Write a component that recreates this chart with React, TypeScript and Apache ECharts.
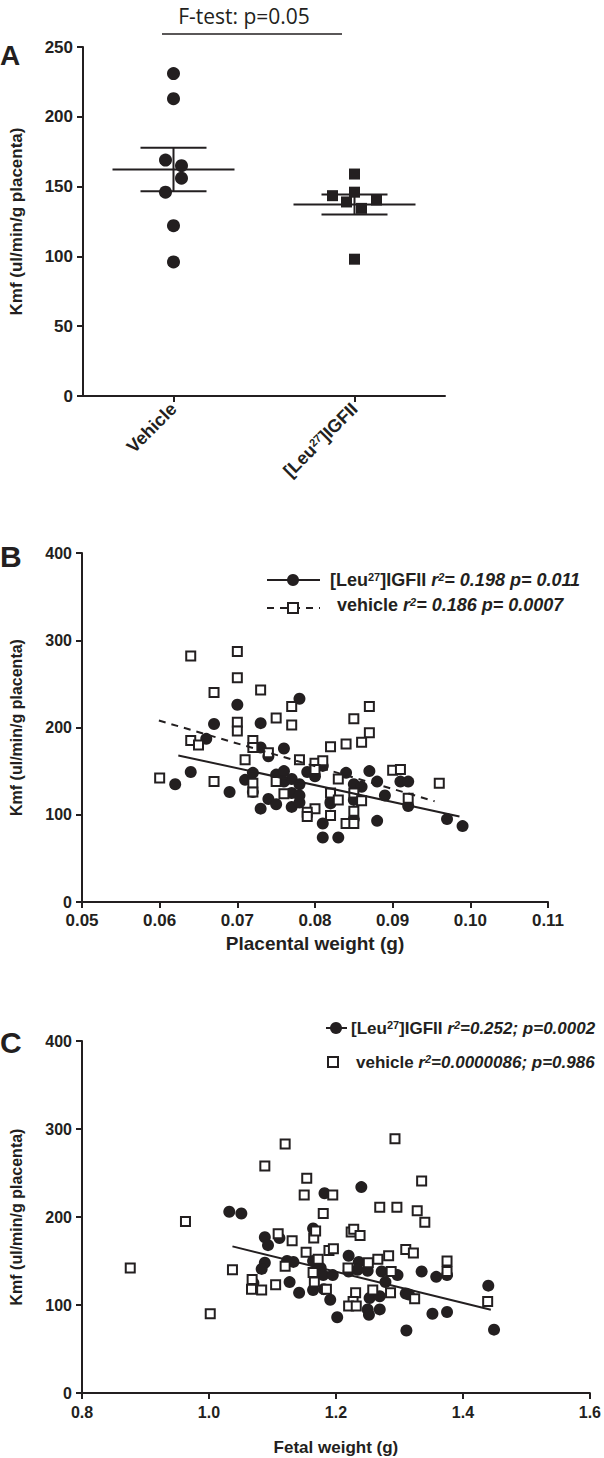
import React, { useEffect, useRef } from "react";
import * as echarts from "echarts";

// ---------- Panel A ----------
const groupsA = ["Vehicle", "[Leu27]IGFII"];
const vehicleA = [231, 213, 169, 165, 156, 146, 122, 96];
const igfA = [159, 146, 143.5, 140.4, 139, 134.4, 98];
const fTestText = "F-test: p=0.05";

// ---------- Panel B : placental weight (g) vs Kmf ----------
const placentaIgf: [number, number][] = [
  [0.078, 233], [0.070, 226], [0.067, 204], [0.073, 205], [0.066, 187], [0.073, 177],
  [0.076, 176], [0.074, 167], [0.064, 149], [0.062, 135], [0.069, 126], [0.071, 140],
  [0.072, 148], [0.072, 126], [0.074, 118], [0.073, 107], [0.075, 112], [0.075, 146],
  [0.076, 150], [0.076, 138], [0.077, 141], [0.077, 125], [0.077, 109], [0.078, 135],
  [0.078, 114], [0.078, 122], [0.079, 149], [0.080, 144], [0.081, 156], [0.081, 90],
  [0.081, 74], [0.083, 74], [0.082, 115], [0.082, 113], [0.084, 148], [0.085, 135],
  [0.086, 132], [0.085, 117], [0.085, 95], [0.087, 150], [0.088, 138], [0.088, 93],
  [0.089, 122], [0.091, 138], [0.092, 138], [0.092, 110], [0.097, 95], [0.099, 87],
];
const placentaVeh: [number, number][] = [
  [0.064, 282], [0.070, 287], [0.070, 257], [0.067, 240], [0.073, 243], [0.077, 224],
  [0.087, 224], [0.085, 210], [0.075, 211], [0.077, 203], [0.070, 206], [0.070, 196],
  [0.087, 194], [0.086, 183], [0.084, 181], [0.082, 178], [0.064, 185], [0.065, 180],
  [0.072, 185], [0.072, 177], [0.074, 171], [0.071, 163], [0.078, 163], [0.080, 159],
  [0.081, 162], [0.080, 152], [0.090, 151], [0.091, 152], [0.096, 136], [0.060, 142],
  [0.067, 138], [0.072, 136], [0.075, 138], [0.083, 141], [0.072, 126], [0.076, 124],
  [0.082, 125], [0.083, 117], [0.085, 125], [0.086, 116], [0.092, 119], [0.080, 107],
  [0.079, 103], [0.079, 98], [0.082, 99], [0.085, 104], [0.084, 90], [0.085, 90],
];
const placentaIgfFit: [number, number][] = [[0.0624, 168], [0.0986, 98]];
const placentaVehFit: [number, number][] = [[0.0599, 208], [0.0954, 115.5]];
const legendB = {
  igf: { r2: "0.198", p: "0.011" },
  veh: { r2: "0.186", p: "0.0007" },
};

// ---------- Panel C : fetal weight (g) vs Kmf ----------
const fetalIgf: [number, number][] = [
  [1.032, 206], [1.051, 204], [1.088, 177], [1.093, 168], [1.111, 176], [1.088, 148],
  [1.083, 141], [1.070, 125], [1.068, 120], [1.123, 150], [1.133, 149], [1.127, 126],
  [1.142, 114], [1.164, 117], [1.164, 150], [1.164, 187], [1.182, 227], [1.176, 142],
  [1.180, 134], [1.181, 118], [1.191, 106], [1.195, 134], [1.202, 86], [1.220, 156],
  [1.236, 149], [1.240, 234], [1.234, 140], [1.250, 139], [1.253, 108], [1.250, 95],
  [1.252, 89], [1.269, 110], [1.269, 95], [1.272, 138], [1.278, 126], [1.297, 134],
  [1.310, 113], [1.315, 112], [1.311, 71], [1.335, 138], [1.352, 90], [1.358, 132],
  [1.375, 134], [1.375, 92], [1.440, 122], [1.449, 72], [1.220, 138],
];
const fetalVeh: [number, number][] = [
  [0.876, 142], [0.963, 195], [1.002, 90], [1.037, 140], [1.068, 129], [1.067, 118],
  [1.083, 117], [1.105, 123], [1.109, 181], [1.088, 258], [1.120, 283], [1.120, 144],
  [1.131, 173], [1.150, 225], [1.154, 244], [1.153, 160], [1.164, 137], [1.165, 176],
  [1.168, 184], [1.166, 126], [1.172, 152], [1.180, 204], [1.195, 225], [1.189, 162],
  [1.196, 164], [1.185, 118], [1.219, 142], [1.224, 183], [1.228, 186], [1.238, 179],
  [1.231, 114], [1.227, 104], [1.220, 99], [1.232, 99], [1.251, 148], [1.258, 117],
  [1.266, 152], [1.269, 211], [1.283, 156], [1.286, 114], [1.287, 138], [1.293, 289],
  [1.296, 211], [1.310, 163], [1.322, 159], [1.324, 107], [1.328, 207], [1.335, 241],
  [1.340, 194], [1.375, 150], [1.375, 138], [1.439, 104],
];
const fetalIgfFit: [number, number][] = [[1.037, 166.6], [1.444, 94.7]];
const legendC = {
  igf: { r2: "0.252", p: "0.0002" },
  veh: { r2: "0.0000086", p: "0.986" },
};

const yTitle = "Kmf (ul/min/g placenta)";

// ---------- styling (not data) ----------
const INK = "#231f20";
const FONT = "Liberation Sans, Arial, sans-serif";
const jitterVeh = [0, 0, -8, 8, 8, -8, 0, 0];
const jitterIgf = [0, 0, -22, 22, -8, 7, 0];

function meanSem(arr: number[]) {
  const n = arr.length;
  const m = arr.reduce((a, b) => a + b, 0) / n;
  const sd = Math.sqrt(arr.reduce((a, b) => a + (b - m) * (b - m), 0) / (n - 1));
  const se = sd / Math.sqrt(n);
  return [m, m - se, m + se];
}

const richCat = {
  n: { fontFamily: FONT, fontWeight: "bold", fontSize: 18, color: INK },
  s: { fontFamily: FONT, fontWeight: "bold", fontSize: 11, color: INK, verticalAlign: "top" },
};

function legendRich(size: number) {
  return {
    n: { fontFamily: FONT, fontWeight: "bold", fontSize: size, fill: INK, color: INK },
    i: { fontFamily: FONT, fontWeight: "bold", fontStyle: "italic", fontSize: size, fill: INK, color: INK },
    s: { fontFamily: FONT, fontWeight: "bold", fontSize: Math.round(size * 0.62), fill: INK, color: INK, verticalAlign: "top" },
    si: { fontFamily: FONT, fontWeight: "bold", fontStyle: "italic", fontSize: Math.round(size * 0.62), fill: INK, color: INK, verticalAlign: "top" },
  };
}

export default function App() {
  const ref = useRef<HTMLDivElement>(null);

  useEffect(() => {
    if (!ref.current) return;
    const chart = echarts.init(ref.current, undefined, { renderer: "svg" });

    const axisLine = { show: true, lineStyle: { color: INK, width: 2 } };
    const axisTick = { show: true, length: 6, lineStyle: { color: INK, width: 2 } };
    const tickLabel = { color: INK, fontFamily: FONT, fontWeight: "bold" as const, fontSize: 16 };
    const nameStyle = { color: INK, fontFamily: FONT, fontWeight: "bold" as const, fontSize: 16 };
    const dot = { color: INK, opacity: 1 };
    const box = { color: "#ffffff", borderColor: INK, borderWidth: 2, opacity: 1 };

    const statsA = [vehicleA, igfA].map((arr, i) => [i, ...meanSem(arr)]);

    const option: any = {
      animation: false,
      grid: [
        { left: 80, top: 47, width: 365, height: 349 },
        { left: 79, top: 553, width: 469, height: 349 },
        { left: 80, top: 1041, width: 512, height: 352 },
      ],
      xAxis: [
        {
          gridIndex: 0,
          type: "category",
          data: groupsA,
          boundaryGap: true,
          axisLine,
          axisTick: { ...axisTick, alignWithLabel: true },
          axisLabel: {
            ...tickLabel,
            fontSize: 18,
            rotate: 45,
            margin: 10,
            formatter: (v: string) =>
              v === groupsA[1] ? "{n|[Leu}{s|27}{n|]IGFII}" : "{n|" + v + "}",
            rich: richCat,
          },
          splitLine: { show: false },
        },
        {
          gridIndex: 1,
          type: "value",
          min: 0.05,
          max: 0.11,
          interval: 0.01,
          axisLine,
          axisTick,
          axisLabel: { ...tickLabel, fontSize: 17, margin: 10, formatter: (v: number) => v.toFixed(2) },
          splitLine: { show: false },
          name: "Placental weight (g)",
          nameLocation: "middle",
          nameGap: 32,
          nameTextStyle: { ...nameStyle, fontSize: 19 },
        },
        {
          gridIndex: 2,
          type: "value",
          min: 0.8,
          max: 1.6,
          interval: 0.2,
          axisLine,
          axisTick,
          axisLabel: { ...tickLabel, margin: 11, formatter: (v: number) => v.toFixed(1) },
          splitLine: { show: false },
          name: "Fetal weight (g)",
          nameLocation: "middle",
          nameGap: 46,
          nameTextStyle: { ...nameStyle, fontSize: 17 },
        },
      ],
      yAxis: [
        {
          gridIndex: 0, type: "value", min: 0, max: 250, interval: 50,
          axisLine, axisTick, axisLabel: { ...tickLabel, fontSize: 17, margin: 10 }, splitLine: { show: false },
          name: yTitle, nameLocation: "middle", nameGap: 58, nameTextStyle: { ...nameStyle, fontSize: 17 },
        },
        {
          gridIndex: 1, type: "value", min: 0, max: 400, interval: 100,
          axisLine, axisTick, axisLabel: { ...tickLabel, margin: 10 }, splitLine: { show: false },
          name: yTitle, nameLocation: "middle", nameGap: 58, nameTextStyle: nameStyle,
        },
        {
          gridIndex: 2, type: "value", min: 0, max: 400, interval: 100,
          axisLine, axisTick, axisLabel: { ...tickLabel, margin: 10 }, splitLine: { show: false },
          name: yTitle, nameLocation: "middle", nameGap: 58, nameTextStyle: nameStyle,
        },
      ],
      series: [
        // Panel A
        {
          type: "scatter", xAxisIndex: 0, yAxisIndex: 0, symbol: "circle", symbolSize: 13,
          itemStyle: dot,
          data: vehicleA.map((v, i) => ({ value: [0, v], symbolOffset: [jitterVeh[i], 0] })),
        },
        {
          type: "scatter", xAxisIndex: 0, yAxisIndex: 0, symbol: "rect", symbolSize: 11,
          itemStyle: dot,
          data: igfA.map((v, i) => ({ value: [1, v], symbolOffset: [jitterIgf[i], 0] })),
        },
        {
          type: "custom", xAxisIndex: 0, yAxisIndex: 0,
          encode: { x: 0, y: 1 },
          data: statsA,
          renderItem: (params: any, api: any) => {
            const idx = api.value(0);
            const pm = api.coord([idx, api.value(1)]);
            const plo = api.coord([idx, api.value(2)]);
            const phi = api.coord([idx, api.value(3)]);
            const x = pm[0];
            const st = { stroke: INK, lineWidth: 2 };
            return {
              type: "group",
              children: [
                { type: "line", shape: { x1: x - 61, y1: pm[1], x2: x + 61, y2: pm[1] }, style: st },
                { type: "line", shape: { x1: x, y1: plo[1], x2: x, y2: phi[1] }, style: st },
                { type: "line", shape: { x1: x - 33, y1: plo[1], x2: x + 33, y2: plo[1] }, style: st },
                { type: "line", shape: { x1: x - 33, y1: phi[1], x2: x + 33, y2: phi[1] }, style: st },
              ],
            };
          },
        },
        // Panel B
        {
          type: "scatter", xAxisIndex: 1, yAxisIndex: 1, symbol: "circle", symbolSize: 12,
          itemStyle: dot, data: placentaIgf,
        },
        {
          type: "scatter", xAxisIndex: 1, yAxisIndex: 1, symbol: "rect", symbolSize: 9,
          itemStyle: box, data: placentaVeh,
        },
        {
          type: "line", xAxisIndex: 1, yAxisIndex: 1, showSymbol: false, symbol: "none",
          lineStyle: { color: INK, width: 2 }, data: placentaIgfFit, z: 5,
        },
        {
          type: "line", xAxisIndex: 1, yAxisIndex: 1, showSymbol: false, symbol: "none",
          lineStyle: { color: INK, width: 2, type: [7, 6] }, data: placentaVehFit, z: 5,
        },
        // Panel C
        {
          type: "scatter", xAxisIndex: 2, yAxisIndex: 2, symbol: "circle", symbolSize: 12,
          itemStyle: dot, data: fetalIgf,
        },
        {
          type: "scatter", xAxisIndex: 2, yAxisIndex: 2, symbol: "rect", symbolSize: 9,
          itemStyle: box, data: fetalVeh,
        },
        {
          type: "line", xAxisIndex: 2, yAxisIndex: 2, showSymbol: false, symbol: "none",
          lineStyle: { color: INK, width: 2 }, data: fetalIgfFit, z: 5,
        },
      ],
      graphic: [
        // panel letters
        { type: "text", x: 0, y: 55, style: { text: "A", font: `bold 28px ${FONT}`, fill: INK, verticalAlign: "middle" } },
        { type: "text", x: 0, y: 556, style: { text: "B", font: `bold 30px ${FONT}`, fill: INK, verticalAlign: "middle" } },
        { type: "text", x: 0, y: 1042, style: { text: "C", font: `bold 30px ${FONT}`, fill: INK, verticalAlign: "middle" } },
        // F-test annotation
        { type: "text", x: 244, y: 16, style: { text: fTestText, font: `21px Open Sans, sans-serif`, fill: INK, align: "center", verticalAlign: "middle" } },
        { type: "line", shape: { x1: 162, y1: 34, x2: 342, y2: 34 }, style: { stroke: INK, lineWidth: 1.5 } },
        // Legend B
        { type: "line", shape: { x1: 267, y1: 580, x2: 320, y2: 580 }, style: { stroke: INK, lineWidth: 2 } },
        { type: "circle", shape: { cx: 293, cy: 580, r: 6 }, style: { fill: INK } },
        {
          type: "text", x: 330, y: 580,
          style: {
            text: `{n|[Leu}{s|27}{n|]IGFII }{i|r}{si|2}{i|= ${legendB.igf.r2} p= ${legendB.igf.p}}`,
            rich: legendRich(18), verticalAlign: "middle", fill: INK,
          },
        },
        { type: "line", shape: { x1: 267, y1: 608, x2: 320, y2: 608 }, style: { stroke: INK, lineWidth: 2, lineDash: [7, 6] } },
        { type: "rect", shape: { x: 288, y: 603, width: 10, height: 10 }, style: { fill: "#fff", stroke: INK, lineWidth: 2 } },
        {
          type: "text", x: 337, y: 605,
          style: {
            text: `{n|vehicle }{i|r}{si|2}{i|= ${legendB.veh.r2} p= ${legendB.veh.p}}`,
            rich: legendRich(18), verticalAlign: "middle", fill: INK,
          },
        },
        // Legend C
        { type: "line", shape: { x1: 326, y1: 1028, x2: 347, y2: 1028 }, style: { stroke: INK, lineWidth: 2 } },
        { type: "circle", shape: { cx: 336, cy: 1028, r: 6 }, style: { fill: INK } },
        {
          type: "text", x: 351, y: 1028,
          style: {
            text: `{n|[Leu}{s|27}{n|]IGFII }{i|r}{si|2}{i|=${legendC.igf.r2}; p=${legendC.igf.p}}`,
            rich: legendRich(17), verticalAlign: "middle", fill: INK,
          },
        },
        { type: "rect", shape: { x: 328, y: 1057, width: 10, height: 10 }, style: { fill: "#fff", stroke: INK, lineWidth: 2 } },
        {
          type: "text", x: 356, y: 1062,
          style: {
            text: `{n|vehicle }{i|r}{si|2}{i|=${legendC.veh.r2}; p=${legendC.veh.p}}`,
            rich: legendRich(17), verticalAlign: "middle", fill: INK,
          },
        },
      ],
    };

    chart.setOption(option);
    return () => chart.dispose();
  }, []);

  return (
    <div
      ref={ref}
      style={{ position: "absolute", left: 0, top: 0, width: 604, height: 1458, background: "#fff" }}
    />
  );
}
